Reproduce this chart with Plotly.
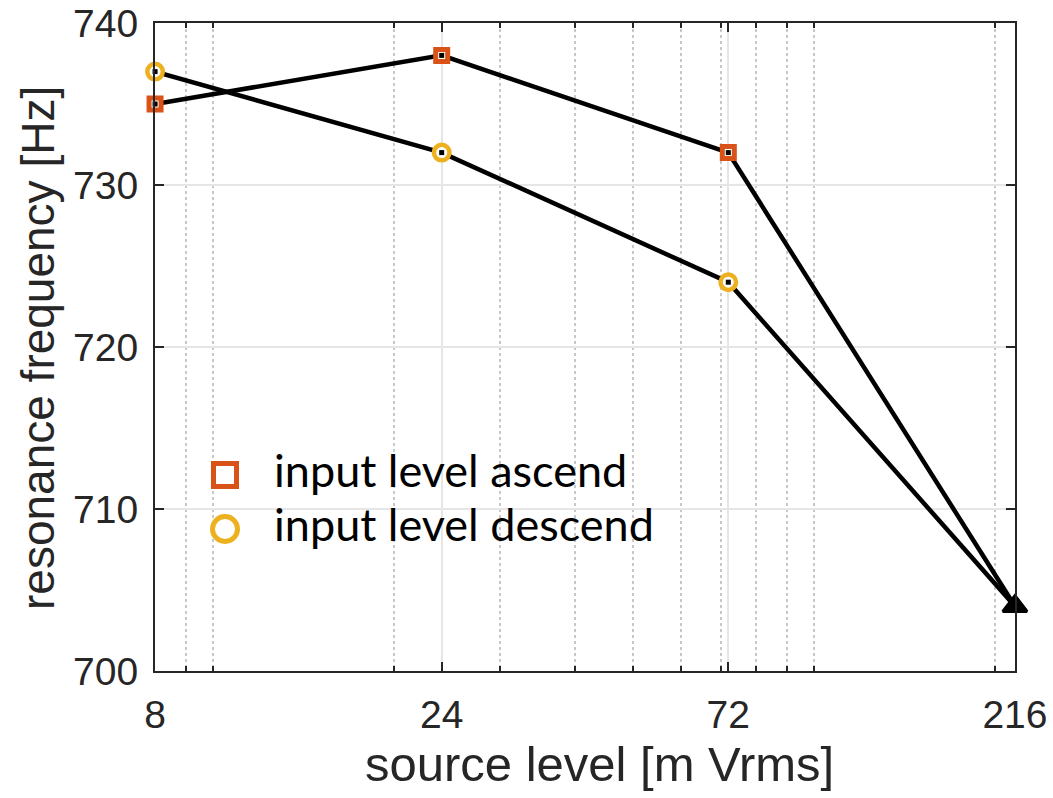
import math
import plotly.graph_objects as go

# Source level sweep (mV rms) and measured resonance frequencies (Hz)
source_level = [8, 24, 72, 216]
freq_ascend = [735, 738, 732, 704]
freq_descend = [737, 732, 724, 704]

x_ticks = [8, 24, 72, 216]
x_minor = [9, 10, 20, 30, 40, 50, 60, 70, 80, 90, 100, 200]
y_ticks = [700, 710, 720, 730, 740]

series_names = ["input level ascend", "input level descend"]
x_title = "source level [m Vrms]"
y_title = "resonance frequency [Hz]"

ORANGE = "#D95319"
YELLOW = "#EDB120"
AXIS = "#262626"

fig = go.Figure()

# connecting black lines
for ys in (freq_ascend, freq_descend):
    fig.add_trace(go.Scatter(
        x=source_level, y=ys, mode="lines", showlegend=False, cliponaxis=False,
        line=dict(color="black", width=4.5),
    ))

# colored markers with white interior
fig.add_trace(go.Scatter(
    x=source_level[:3], y=freq_ascend[:3], mode="markers", name=series_names[0],
    showlegend=False, cliponaxis=False,
    marker=dict(symbol="square", size=12, color="white", line=dict(width=5, color=ORANGE)),
))
fig.add_trace(go.Scatter(
    x=source_level[:3], y=freq_descend[:3], mode="markers", name=series_names[1],
    showlegend=False, cliponaxis=False,
    marker=dict(symbol="circle", size=15.5, color="white", line=dict(width=4.5, color=YELLOW)),
))

# small point dots on top
for ys in (freq_ascend, freq_descend):
    fig.add_trace(go.Scatter(
        x=source_level[:3], y=ys[:3], mode="markers", showlegend=False, cliponaxis=False,
        marker=dict(symbol="square", size=5, color="black"),
    ))

# shared end point
fig.add_trace(go.Scatter(
    x=[source_level[-1]], y=[freq_ascend[-1]], mode="markers", showlegend=False,
    marker=dict(symbol="triangle-up", size=21, color="black", line=dict(width=3, color="black")),
    cliponaxis=False,
))

axis_common = dict(
    showline=True, linecolor=AXIS, linewidth=2, mirror="ticks",
    ticks="inside", ticklen=9, tickwidth=2, tickcolor=AXIS,
    showgrid=True, gridcolor="#e6e6e6", gridwidth=1.5,
    tickfont=dict(family="Liberation Sans, Arial", size=39, color=AXIS),
    zeroline=False, automargin=False,
)

fig.update_xaxes(
    type="log", range=[math.log10(8) - 1e-4, math.log10(216) + 1e-4],
    tickmode="array", tickvals=x_ticks, ticktext=[str(v) for v in x_ticks],
    ticklabelstandoff=8,
    minor=dict(tickmode="array", tickvals=x_minor, ticks="inside", ticklen=5,
               tickwidth=2, tickcolor=AXIS,
               showgrid=True, griddash="dot", gridcolor="#c8c8c8", gridwidth=1.5),
    **axis_common,
)
fig.update_yaxes(
    range=[700, 740], tickmode="array", tickvals=y_ticks,
    ticklabelstandoff=7,
    **axis_common,
)

# pixel helpers for the axes box
L, R, T, B = 155, 1015, 23, 671
def px_x(p):
    return (p - L) / (R - L)
def px_y(p):
    return (B - p) / (B - T)

annotations = [
    dict(x=px_x(599), y=px_y(764), xref="paper", yref="paper", text=x_title,
         showarrow=False, xanchor="center", yanchor="middle",
         font=dict(family="Liberation Sans, Arial", size=49, color=AXIS)),
    dict(x=px_x(38), y=px_y(348), xref="paper", yref="paper", text=y_title,
         showarrow=False, xanchor="center", yanchor="middle", textangle=-90,
         font=dict(family="Liberation Sans, Arial", size=46, color=AXIS)),
]

# legend drawn as symbols + labels inside the axes
legend_rows = [
    (475, "rect", ORANGE, 23, series_names[0]),
    (529, "circle", YELLOW, 25, series_names[1]),
]
shapes = []
for yc, kind, col, sz, label in legend_rows:
    shapes.append(dict(
        type=kind, xref="paper", yref="paper",
        xsizemode="pixel", ysizemode="pixel",
        xanchor=px_x(225), yanchor=px_y(yc),
        x0=-sz / 2, x1=sz / 2, y0=-sz / 2, y1=sz / 2,
        line=dict(color=col, width=5), fillcolor="rgba(0,0,0,0)",
    ))
    annotations.append(dict(
        x=px_x(272), y=px_y(yc - 5), xref="paper", yref="paper",
        xanchor="left", yanchor="middle", showarrow=False, text=label,
        font=dict(family="Lato, Open Sans", size=45, color="black"),
    ))

fig.update_layout(
    width=1053, height=798,
    margin=dict(l=L, r=1053 - R, t=T, b=798 - B),
    plot_bgcolor="white", paper_bgcolor="white",
    showlegend=False,
    shapes=shapes, annotations=annotations,
)

fig.write_html("out.html")
